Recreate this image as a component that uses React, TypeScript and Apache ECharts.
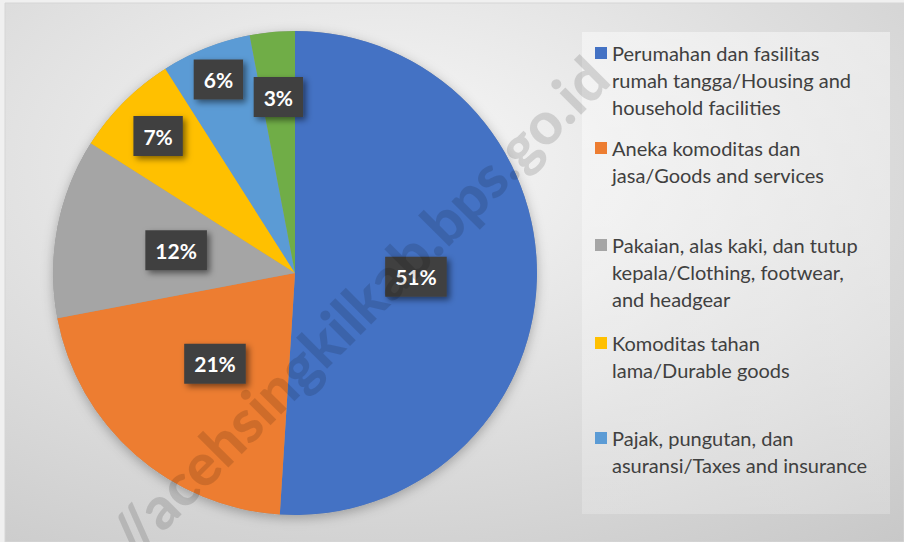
import React, { useEffect, useRef } from 'react';
import * as echarts from 'echarts';

// ---- Data ----
const categoryLines: string[][] = [
  ['Perumahan dan fasilitas', 'rumah tangga/Housing and', 'household facilities'],
  ['Aneka komoditas dan', 'jasa/Goods and services'],
  ['Pakaian, alas kaki, dan tutup', 'kepala/Clothing, footwear,', 'and headgear'],
  ['Komoditas tahan', 'lama/Durable goods'],
  ['Pajak, pungutan, dan', 'asuransi/Taxes and insurance'],
  ['Lainnya/Others'],
];
const categories: string[] = categoryLines.map((l) => l.join(' '));
const shares: number[] = [51, 21, 12, 7, 6, 3];
const legendCount = 5;
const watermark = '//acehsingkilkab.bps.go.id';

// ---- Style / layout ----
const colors = ['#4472C4', '#ED7D31', '#A5A5A5', '#FFC000', '#5B9BD5', '#70AD47'];
const W = 904;
const H = 542;
const CX = 295;
const CY = 273;
const R = 242;
const labelRadiusFrac = [0.5, 0.5, 0.5, 0.8, 0.86, 0.73];
const legendFirstLineY = [53, 148, 245, 343, 438];
const LINE = 27;

export default function App() {
  const ref = useRef<HTMLDivElement>(null);

  useEffect(() => {
    if (!ref.current) return;
    const chart = echarts.init(ref.current, undefined, { renderer: 'svg', width: W, height: H });
    const total = shares.reduce((a, b) => a + b, 0);

    const legends = categories.slice(0, legendCount).map((name, i) => {
      const n = categoryLines[i].length;
      const h = n * LINE;
      return {
        data: [name],
        left: 595,
        top: legendFirstLineY[i] - LINE / 2,
        orient: 'vertical',
        padding: 0,
        itemWidth: 12,
        itemHeight: h,
        icon: `path://M0,${LINE / 2 - 6}h12v12h-12z M0,0h0.01v0.01z M0,${h - 0.01}h0.01v0.01z`,
        selectedMode: false,
        formatter: (nm: string) => categoryLines[categories.indexOf(nm)].join('\n'),
        textStyle: {
          fontFamily: 'Lato',
          fontSize: 20,
          color: '#404040',
          lineHeight: LINE,
        },
      };
    });

    const option: any = {
      animation: false,
      backgroundColor: 'transparent',
      legend: legends,
      graphic: [
        {
          type: 'rect',
          silent: true,
          z: -10,
          shape: { x: 5, y: 3, width: W - 5, height: H - 3 },
          style: {
            fill: new echarts.graphic.RadialGradient(0.42, 0.3, 1, [
              { offset: 0, color: '#f8f8f8' },
              { offset: 1, color: '#c3c3c3' },
            ]),
            stroke: '#d6d6d6',
            lineWidth: 1,
          },
        },
        {
          type: 'rect',
          silent: true,
          z: -9,
          shape: { x: 582, y: 32, width: 308, height: 482 },
          style: {
            fill: new echarts.graphic.LinearGradient(0, 0, 0, 1, [
              { offset: 0, color: 'rgba(255,255,255,0.45)' },
              { offset: 1, color: 'rgba(255,255,255,0.22)' },
            ]),
          },
        },
        {
          type: 'text',
          silent: true,
          z: 100,
          x: 358,
          y: 306,
          rotation: Math.PI / 4,
          style: {
            text: watermark,
            font: '900 59px Lato',
            fill: 'rgba(0,0,0,0.13)',
            align: 'center',
            verticalAlign: 'middle',
          },
        },
      ],
      series: [
        {
          type: 'pie',
          name: 'shadow',
          silent: true,
          z: 1,
          center: [CX, CY],
          radius: R,
          label: { show: false },
          labelLine: { show: false },
          emphasis: { disabled: true },
          itemStyle: {
            color: '#999999',
            shadowBlur: 12,
            shadowOffsetY: 3,
            shadowColor: 'rgba(0,0,0,0.28)',
          },
          data: [{ name: '__shadow', value: total }],
        },
        {
          type: 'pie',
          name: 'Share',
          z: 2,
          center: [CX, CY],
          radius: R,
          startAngle: 90,
          clockwise: true,
          avoidLabelOverlap: false,
          emphasis: { disabled: true },
          itemStyle: { borderWidth: 0 },
          label: {
            show: true,
            position: 'inside',
            formatter: (p: any) => `${p.value}%`,
            color: '#ffffff',
            fontFamily: 'Lato',
            fontWeight: 'bold',
            fontSize: 21,
            lineHeight: 24,
            backgroundColor: '#404040',
            padding: [8, 10, 8, 10],
            shadowColor: 'rgba(0,0,0,0.5)',
            shadowBlur: 6,
            shadowOffsetX: 3,
            shadowOffsetY: 3,
          },
          labelLine: { show: false },
          labelLayout: (p: any) => {
            const i = p.dataIndex;
            const before = shares.slice(0, i).reduce((a, b) => a + b, 0);
            const ang = ((before + shares[i] / 2) / total) * 2 * Math.PI;
            const r = R * labelRadiusFrac[i];
            return {
              x: CX + r * Math.sin(ang),
              y: CY - r * Math.cos(ang),
              align: 'center',
              verticalAlign: 'middle',
            };
          },
          data: categories.map((name, i) => ({
            name,
            value: shares[i],
            itemStyle: { color: colors[i] },
          })),
        },
      ],
    };

    chart.setOption(option);
    return () => chart.dispose();
  }, []);

  return (
    <div
      ref={ref}
      style={{
        position: 'absolute',
        left: 0,
        top: 0,
        width: W,
        height: H,
        background: '#f0f0f0',
      }}
    />
  );
}
